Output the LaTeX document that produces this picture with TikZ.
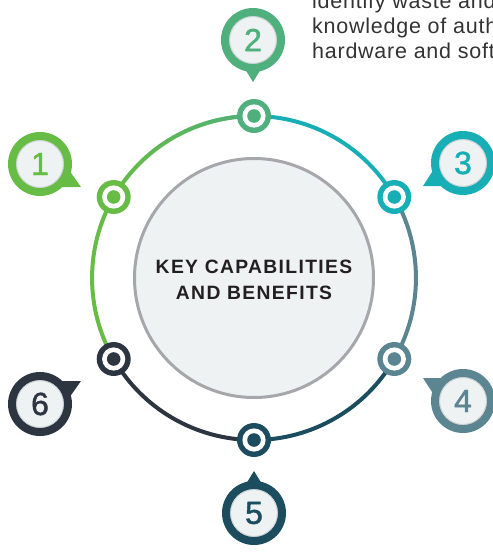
\documentclass[tikz,border=0pt]{standalone}
\usepackage{fontspec}
\setmainfont{Liberation Sans}
\newfontfamily\capsfont[LetterSpace=7]{Liberation Sans}
\newfontfamily\digitfont[FakeBold=1.4]{Liberation Sans}
\newfontfamily\bodyfont[LetterSpace=3.5]{Liberation Sans}
\usetikzlibrary{backgrounds,fadings,calc}
\definecolor{cA}{HTML}{67BC45}
\definecolor{cB}{HTML}{4FB07D}
\definecolor{cC}{HTML}{18AEB6}
\definecolor{cD}{HTML}{5A8591}
\definecolor{cE}{HTML}{1B4D5E}
\definecolor{cF}{HTML}{2C3540}
\definecolor{innerfill}{HTML}{EEF2F3}
\definecolor{ringgray}{HTML}{A5A7AA}
\definecolor{shadowgray}{HTML}{C9CED1}
\definecolor{titletext}{HTML}{231F20}
\definecolor{bodytext}{HTML}{333333}
\tikzfading[name=fadein, left color=transparent!100, right color=transparent!0]
\begin{document}
\begin{tikzpicture}[x=1pt,y=-1pt,
  marker/.style={circle, minimum size=34pt, inner sep=0pt, fill=#1,
    path picture={\fill[white] (path picture bounding box.center) circle[radius=11.6pt];
                  \fill[#1] (path picture bounding box.center) circle[radius=6.8pt];}},
  bubble/.style={circle, minimum size=64pt, inner sep=0pt, fill=#1, text=#1,
    font=\digitfont\fontsize{32}{32}\selectfont,
    path picture={\fill[innerfill] (path picture bounding box.center) circle[radius=23.8pt];
                  \draw[shadowgray, line width=0.8pt] (path picture bounding box.center) circle[radius=23.4pt];}},
  ringarc/.style={line width=4pt, #1},
  bodyline/.style={anchor=base west, inner sep=0pt, text=bodytext, font=\bodyfont\fontsize{21.5}{25}\selectfont},
  curve/.style={bend left=30, looseness=0.914}
]
\useasboundingbox (0,0) rectangle (493,552);
\begin{scope}
\clip (0,0) rectangle (493,552);

% centre disc
\node[circle, minimum size=239pt, inner sep=0pt, fill=innerfill, draw=ringgray, line width=3pt] (core) at (254,278) {};
\node[align=center, text=titletext, font=\capsfont\bfseries\fontsize{19.3}{26.7}\selectfont] (title) at (254,280)
  {KEY CAPABILITIES\\AND BENEFITS};

% markers on the ring
\node[marker=cA] (m1) at (113.7,197) {};
\node[marker=cB] (m2) at (254,116) {};
\node[marker=cC] (m3) at (394.3,197) {};
\node[marker=cD] (m4) at (394.3,359) {};
\node[marker=cE] (m5) at (254,440) {};
\node[marker=cF] (m6) at (113.7,359) {};

\begin{pgfonlayer}{background}
  \draw[ringarc=cA] (m1.center) to[curve] (m2.center);
  \draw[ringarc=cB, path fading=fadein] (m1.center) to[curve] (m2.center);
  \draw[ringarc=cC] (m2.center) to[curve] (m3.center);
  \draw[ringarc=cD] (m3.center) to[curve] (m4.center);
  \draw[ringarc=cE] (m4.center) to[curve] (m5.center);
  \draw[ringarc=cF] (m5.center) to[curve] (m6.center);
  \draw[ringarc=cA] (m6.center) to[curve] (m1.center);
\end{pgfonlayer}

% numbered bubbles
\node[bubble=cA] (b1) at (40,164) {1};
\node[bubble=cB] (b2) at (253,40) {2};
\node[bubble=cC] (b3) at (463,163) {3};
\node[bubble=cD] (b4) at (463,401) {4};
\node[bubble=cE] (b5) at (254,513) {5};
\node[bubble=cF] (b6) at (40,404) {6};

% bubble tails
\fill[cA] ($(b1)+(19,23)$) -- ($(b1)+(41,23)$) -- ($(b1)+(29,6)$) -- cycle;
\fill[cB] ($(b2)+(-8,29)$) -- ($(b2)+(0,42)$) -- ($(b2)+(8,29)$) -- cycle;
\fill[cC] ($(b3)+(-19,23)$) -- ($(b3)+(-40,23)$) -- ($(b3)+(-29,6)$) -- cycle;
\fill[cD] ($(b4)+(-19,-23)$) -- ($(b4)+(-40,-23)$) -- ($(b4)+(-29,-6)$) -- cycle;
\fill[cE] ($(b5)+(-8,-29)$) -- ($(b5)+(0,-42)$) -- ($(b5)+(8,-29)$) -- cycle;
\fill[cF] ($(b6)+(19,-23)$) -- ($(b6)+(41,-23)$) -- ($(b6)+(29,-6)$) -- cycle;

% cut-off paragraph at top right
\node[bodyline] (t1) at (312,8.3) {identify waste and};
\node[bodyline] (t2) at (312,33.3) {knowledge of auth};
\node[bodyline] (t3) at (312,58.3) {hardware and soft};
\end{scope}
\end{tikzpicture}
\end{document}
